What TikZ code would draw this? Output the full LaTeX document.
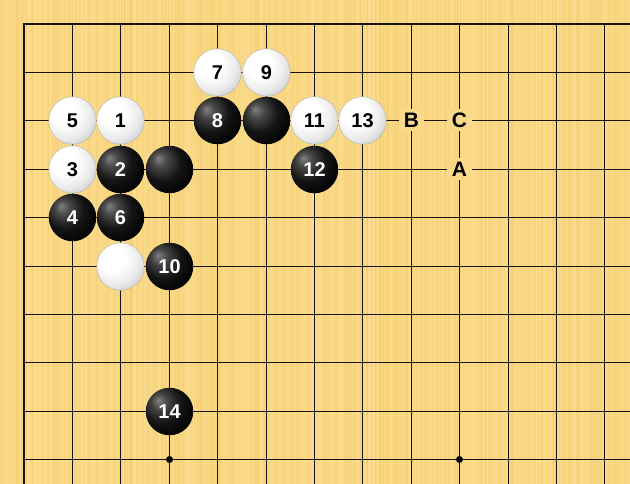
\documentclass[tikz,border=0pt]{standalone}
\usepackage{fontspec}
\setmainfont{Liberation Sans}
\definecolor{boardcol}{HTML}{F9D889}
\definecolor{woodA}{HTML}{F4CB6C}
\definecolor{woodB}{HTML}{FDE299}
\definecolor{gridcol}{HTML}{141414}
\pgfdeclareradialshading{whitestone}{\pgfpoint{-12bp}{12bp}}{color(0bp)=(white); color(14bp)=(white); color(26bp)=(black!8); color(36bp)=(black!22); color(48bp)=(black!40); color(60bp)=(black!45)}
\pgfdeclareradialshading{blackstone}{\pgfpoint{-12bp}{12bp}}{color(0bp)=(black!50); color(8bp)=(black!72); color(20bp)=(black!92); color(34bp)=(black); color(50bp)=(black!96); color(62bp)=(black!80)}
\tikzset{
  stone/.style={circle, minimum size=47.5bp, inner sep=0pt, font=\bfseries\fontsize{20}{20}\selectfont},
  wstone/.style={stone, shading=whitestone, draw=black!30, line width=0.4pt, text=black},
  bstone/.style={stone, shading=blackstone, text=white},
  pointlabel/.style={fill=boardcol, inner sep=0pt, minimum width=25bp, minimum height=22bp, font=\bfseries\fontsize{21}{21}\selectfont, text=black},
  hoshi/.style={circle, fill=black, inner sep=0pt, minimum size=7bp},
  gridline/.style={draw=gridcol, line width=1bp},
  borderline/.style={draw=gridcol, line width=2bp}
}
\begin{document}
\begin{tikzpicture}[x=1bp,y=-1bp]
\useasboundingbox (0,0) rectangle (630,484);
\fill[boardcol] (0,0) rectangle (630,484);
\pgfmathsetseed{11}
\foreach \i in {0,...,629}{
  \pgfmathsetmacro\m{int(20+rnd*60)}
  \fill[woodA!\m!woodB] (\i,0) rectangle (\i+1,484);
}
% grid positions
\foreach \i/\v in {0/24,1/72.5,2/120.5,3/169.5,4/217.5,5/266.5,6/314.5,7/362.5,8/411.5,9/459.5,10/508.5,11/556.5,12/604.5}
  \coordinate (x\i) at (\v,24);
\foreach \j/\v in {0/24,1/72.5,2/120.5,3/169.5,4/217.5,5/266.5,6/314.5,7/362.5,8/411.5,9/459.5}
  \coordinate (y\j) at (24,\v);
\coordinate (right) at (630,24);
\coordinate (bottom) at (24,484);
\foreach \i in {1,...,12} \draw[gridline] (x\i) -- (x\i |- bottom);
\foreach \j in {1,...,9} \draw[gridline] (y\j) -- (y\j -| right);
\draw[borderline] (right) -- (x0) -- (bottom);
\node[hoshi] (h1) at (x3 |- y9) {};
\node[hoshi] (h2) at (x9 |- y9) {};
% labels
\node[pointlabel] (B) at (x8 |- y2) {B};
\node[pointlabel] (C) at (x9 |- y2) {C};
\node[pointlabel] (A) at (x9 |- y3) {A};
% white stones
\node[wstone] (s7) at (x4 |- y1) {7};
\node[wstone] (s9) at (x5 |- y1) {9};
\node[wstone] (s5) at (x1 |- y2) {5};
\node[wstone] (s1) at (x2 |- y2) {1};
\node[wstone] (s11) at (x6 |- y2) {11};
\node[wstone] (s13) at (x7 |- y2) {13};
\node[wstone] (s3) at (x1 |- y3) {3};
\node[wstone] (w1) at (x2 |- y5) {};
% black stones
\node[bstone] (s8) at (x4 |- y2) {8};
\node[bstone] (b1) at (x5 |- y2) {};
\node[bstone] (s2) at (x2 |- y3) {2};
\node[bstone] (b2) at (x3 |- y3) {};
\node[bstone] (s12) at (x6 |- y3) {12};
\node[bstone] (s4) at (x1 |- y4) {4};
\node[bstone] (s6) at (x2 |- y4) {6};
\node[bstone] (s10) at (x3 |- y5) {10};
\node[bstone] (s14) at (x3 |- y8) {14};
\end{tikzpicture}
\end{document}
